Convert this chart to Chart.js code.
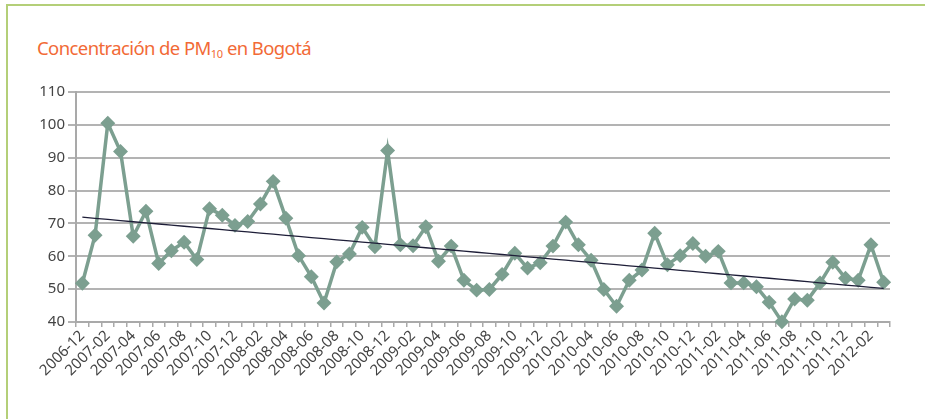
<!DOCTYPE html>
<html>
<head>
<meta charset="utf-8">
<script src="https://cdn.jsdelivr.net/npm/chart.js@4"></script>
<style>
  html, body { margin: 0; padding: 0; background: #fff; }
  #wrap { position: relative; width: 925px; height: 419px; overflow: hidden; }
  #frameTop { position: absolute; left: 6px; top: 4px; width: 919px; height: 2px; background: #b4cf78; }
  #frameLeft { position: absolute; left: 6px; top: 4px; width: 2px; height: 415px; background: #b4cf78; }
  #titulo { position: absolute; left: 37px; top: 35px; font-family: "Noto Sans", sans-serif; font-size: 18.5px; color: #f26a36; letter-spacing: -0.6px; }
  #titulo sub { font-size: 11px; vertical-align: -3px; letter-spacing: -0.3px; }
  #myChart { position: absolute; left: 0; top: 0; }
</style>
</head>
<body>
<div id="wrap">
  <div id="frameTop"></div>
  <div id="frameLeft"></div>
  <div id="titulo">Concentración de PM<sub>10</sub> en Bogotá</div>
  <canvas id="myChart" width="925" height="419"></canvas>
</div>
<script>
const meses = [
  '2006-12',
  '2007-01', '2007-02', '2007-03', '2007-04', '2007-05', '2007-06', '2007-07', '2007-08', '2007-09', '2007-10', '2007-11', '2007-12',
  '2008-01', '2008-02', '2008-03', '2008-04', '2008-05', '2008-06', '2008-07', '2008-08', '2008-09', '2008-10', '2008-11', '2008-12',
  '2009-01', '2009-02', '2009-03', '2009-04', '2009-05', '2009-06', '2009-07', '2009-08', '2009-09', '2009-10', '2009-11', '2009-12',
  '2010-01', '2010-02', '2010-03', '2010-04', '2010-05', '2010-06', '2010-07', '2010-08', '2010-09', '2010-10', '2010-11', '2010-12',
  '2011-01', '2011-02', '2011-03', '2011-04', '2011-05', '2011-06', '2011-07', '2011-08', '2011-09', '2011-10', '2011-11', '2011-12',
  '2012-01', '2012-02', '2012-03'
];

const pm10 = [
  51.8,
  66.4, 100.5, 91.9, 66.1, 73.7, 57.8, 61.7, 64.3, 59.0, 74.5, 72.5, 69.4,
  70.6, 75.9, 82.8, 71.6, 60.2, 53.8, 45.8, 58.3, 60.7, 68.8, 62.9, 92.2,
  63.5, 63.2, 69.0, 58.5, 63.1, 52.7, 49.7, 49.9, 54.5, 60.9, 56.4, 58.0,
  63.1, 70.4, 63.5, 58.8, 49.9, 44.8, 52.7, 55.8, 67.0, 57.4, 60.2, 63.9,
  60.0, 61.5, 51.9, 51.9, 50.7, 46.0, 40.1, 47.0, 46.6, 51.9, 58.2, 53.3,
  52.7, 63.5, 52.1
];

const yTicks = [40, 50, 60, 70, 80, 90, 100, 110];

// linea de tendencia (minimos cuadrados sobre la serie)
const n = pm10.length;
let sx = 0, sy = 0, sxy = 0, sxx = 0;
pm10.forEach((v, i) => { sx += i; sy += v; sxy += i * v; sxx += i * i; });
const pend = (n * sxy - sx * sy) / (n * sxx - sx * sx);
const inter = (sy - pend * sx) / n;
const tendencia = pm10.map((v, i) => inter + pend * i);

const data = {
  labels: meses,
  datasets: [
    {
      label: 'PM10',
      data: pm10,
      borderColor: '#7c9f90',
      backgroundColor: '#7c9f90',
      borderWidth: 3.5,
      pointStyle: 'rectRot',
      pointRadius: 5,
      pointHoverRadius: 5,
      tension: 0,
      clip: false,
      order: 2
    },
    {
      label: 'Tendencia',
      data: tendencia,
      borderColor: '#1e1e38',
      borderWidth: 1.3,
      pointRadius: 0,
      order: 1
    }
  ]
};

const config = {
  type: 'line',
  data,
  options: {
    responsive: false,
    animation: false,
    layout: { padding: { left: 0, right: 35, top: 92, bottom: 0 } },
    plugins: { legend: { display: false }, tooltip: { enabled: false } },
    scales: {
      x: {
        offset: true,
        grid: {
          offset: true,
          drawOnChartArea: false,
          drawTicks: true,
          tickLength: 5,
          color: '#a9a9a9',
          lineWidth: 1.5
        },
        border: { color: '#a9a9a9', width: 2 },
        ticks: {
          autoSkip: false,
          maxRotation: 45,
          minRotation: 45,
          padding: 0,
          color: '#444',
          font: { family: '"Noto Sans", sans-serif', size: 15 },
          callback: function (val, i) { return i % 2 === 0 ? meses[i] : ''; }
        },
        afterFit: function (axis) { axis.height = 97; }
      },
      y: {
        min: 40,
        max: 110,
        afterBuildTicks: function (axis) { axis.ticks = yTicks.map(v => ({ value: v })); },
        grid: {
          color: '#b3b3b3',
          lineWidth: 2,
          tickLength: 8
        },
        border: { color: '#a9a9a9', width: 2 },
        ticks: {
          padding: 3,
          color: '#444',
          font: { family: '"Noto Sans", sans-serif', size: 15 }
        },
        afterFit: function (axis) { axis.width = 76; }
      }
    }
  }
};

const myChart = new Chart(document.getElementById('myChart'), config);
</script>
</body>
</html>
